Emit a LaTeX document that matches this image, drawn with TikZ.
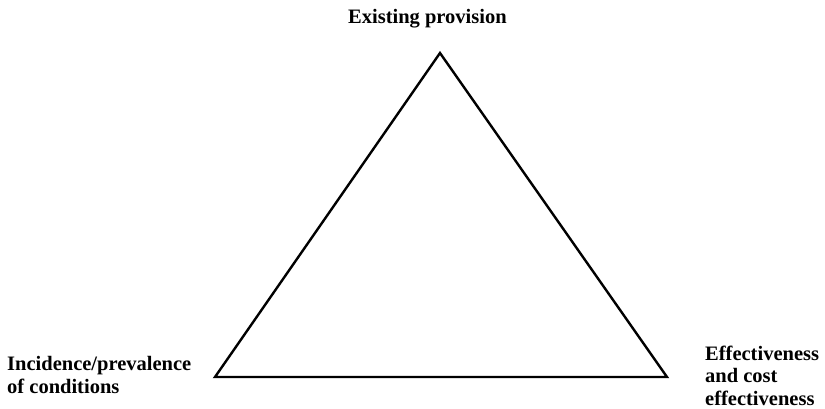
\documentclass[tikz,border=0pt]{standalone}
\usepackage{fontspec}
\setmainfont{Liberation Serif}
\begin{document}
\begin{tikzpicture}[x=1pt,y=-1pt,
  lbl/.style={font=\fontsize{20.5}{22.5}\selectfont\bfseries, inner sep=0pt, align=left},
  tri/.style={draw=black, line width=2.4pt, line join=miter}]
\useasboundingbox (0,0) rectangle (825,409);
\coordinate (T) at (440,53);
\coordinate (L) at (215,377);
\coordinate (R) at (667,377);
\draw[tri] (T) -- (L) -- (R) -- cycle;
\node[lbl, anchor=base west] (top) at (348,24) {Existing provision};
\node[lbl, anchor=base west] (left) at (7,393) {Incidence/prevalence\\of conditions};
\node[lbl, anchor=base west] (right) at (705,405) {Effectiveness\\and cost\\effectiveness};
\end{tikzpicture}
\end{document}
